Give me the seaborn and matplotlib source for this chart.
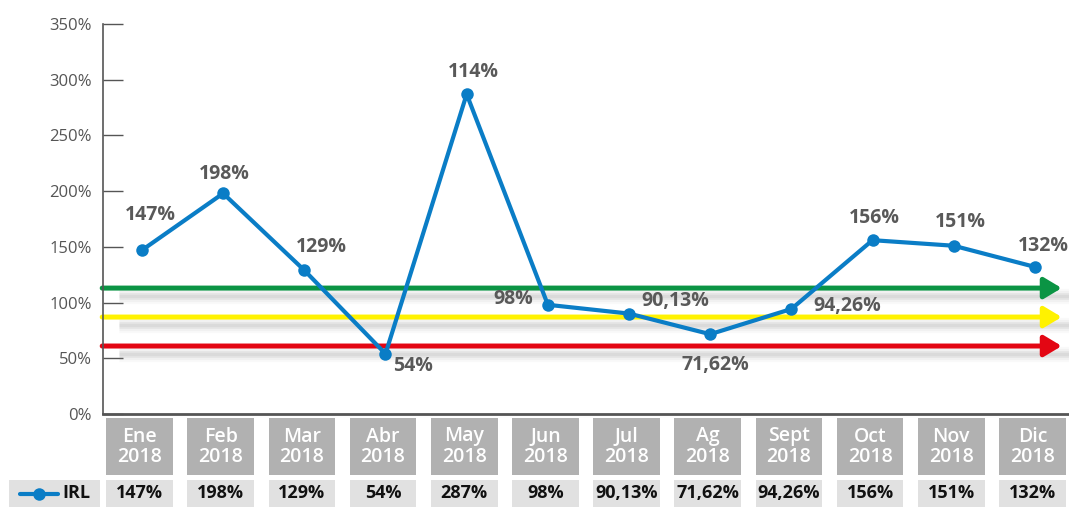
import numpy as np
import pandas as pd
import matplotlib.pyplot as plt
import seaborn as sns
from matplotlib.transforms import blended_transform_factory
from matplotlib.patches import Rectangle
from matplotlib.lines import Line2D

# Data
months = ['Ene', 'Feb', 'Mar', 'Abr', 'May', 'Jun', 'Jul', 'Ag', 'Sept', 'Oct', 'Nov', 'Dic']
year = '2018'
irl = [147, 198, 129, 54, 287, 98, 90.13, 71.62, 94.26, 156, 151, 132]
point_labels = ['147%', '198%', '129%', '54%', '114%', '98%', '90,13%', '71,62%',
                '94,26%', '156%', '151%', '132%']
table_labels = ['147%', '198%', '129%', '54%', '287%', '98%', '90,13%', '71,62%',
                '94,26%', '156%', '151%', '132%']
thresholds = [113, 87, 61]
threshold_colors = ['#0b9444', '#fff200', '#e30613']

# label offsets in points (dx, dy)
label_offsets = [(6, 25), (1, 14), (12, 17), (20, -9), (5, 16), (-25, 4),
                 (33, 9), (4, -22), (40, 2), (1, 16), (5, 17), (6, 15)]

sns.set_theme(style='white')
plt.rcParams['font.family'] = ['Open Sans', 'DejaVu Sans']

df = pd.DataFrame({'pos': np.arange(len(months)), 'irl': irl})

fig = plt.figure(figsize=(10.69, 5.08), dpi=100)
ax = fig.add_axes([103 / 1069, 94 / 508, 966 / 1069, 390 / 508])

blue = '#0a7dc6'
grey_txt = '#595959'

# threshold arrows with soft shadow
for y, c in zip(thresholds, threshold_colors):
    for lw, a in [(11, 0.05), (8, 0.07), (5, 0.1), (2.5, 0.12)]:
        ax.plot([-0.28, 11.42], [y - 7, y - 7], color='#8a8a8a', lw=lw, alpha=a,
                solid_capstyle='butt', zorder=1)
    ax.annotate('', xy=(11.33, y), xytext=(-0.49, y),
                arrowprops=dict(arrowstyle='-|>,head_length=0.75,head_width=0.45',
                                color=c, lw=3.6, mutation_scale=14,
                                shrinkA=0, shrinkB=0), zorder=2)

sns.lineplot(data=df, x='pos', y='irl', color=blue, lw=3, marker='o',
             markersize=9, markeredgewidth=0, ax=ax, zorder=5)

for i, (lab, off) in enumerate(zip(point_labels, label_offsets)):
    ax.annotate(lab, (i, irl[i]), xytext=off, textcoords='offset points',
                ha='center', va='center', fontsize=14, fontweight='bold',
                color=grey_txt, zorder=6)

ax.set_xlim(-0.48, 11.42)
ax.set_ylim(0, 350)
ax.set_yticks(np.arange(0, 351, 50))
ax.set_yticklabels([f'{v}%' for v in range(0, 351, 50)])
ax.set_xticks([])
ax.set_xlabel('')
ax.set_ylabel('')
ax.tick_params(axis='y', direction='in', length=14.4, width=1, color='#555555',
               labelsize=12, labelcolor='#555555', pad=8, left=True)
sns.despine(ax=ax, top=True, right=True)
ax.spines['left'].set_color('#555555')
ax.spines['left'].set_linewidth(1.2)
ax.spines['bottom'].set_color('#555555')
ax.spines['bottom'].set_linewidth(2)

# table under the chart
tr = blended_transform_factory(ax.transData, fig.transFigure)
bw = 0.82
for i, m in enumerate(months):
    ax.add_patch(Rectangle((i - bw / 2 - 0.03, 33 / 508), bw, 57 / 508, transform=tr,
                           facecolor='#b1b1b1', edgecolor='none', clip_on=False))
    ax.text(i - 0.03, 61.5 / 508, f'{m}\n{year}', transform=tr, ha='center',
            va='center', color='white', fontsize=14, fontweight='semibold',
            linespacing=1.0)
    ax.add_patch(Rectangle((i - bw / 2 - 0.03, 1 / 508), bw, 27 / 508, transform=tr,
                           facecolor='#e1e1e1', edgecolor='none', clip_on=False))
    ax.text(i - 0.03, 14.5 / 508, table_labels[i], transform=tr, ha='center',
            va='center', color='#111111', fontsize=13, fontweight='bold')

fig.patches.append(Rectangle((9 / 1069, 1 / 508), 91 / 1069, 27 / 508,
                             transform=fig.transFigure, facecolor='#e1e1e1',
                             edgecolor='none'))
fig.lines.append(Line2D([20 / 1069, 58 / 1069], [14.5 / 508, 14.5 / 508],
                        transform=fig.transFigure, color=blue, lw=3, zorder=5))
fig.lines.append(Line2D([39 / 1069], [14.5 / 508], transform=fig.transFigure,
                        color=blue, marker='o', markersize=9, markeredgewidth=0,
                        lw=0, zorder=6))
fig.text(62 / 1069, 14.5 / 508, 'IRL', ha='left', va='center', fontsize=13,
         fontweight='bold', color='#111111')

fig.savefig('out.png', dpi=100)
